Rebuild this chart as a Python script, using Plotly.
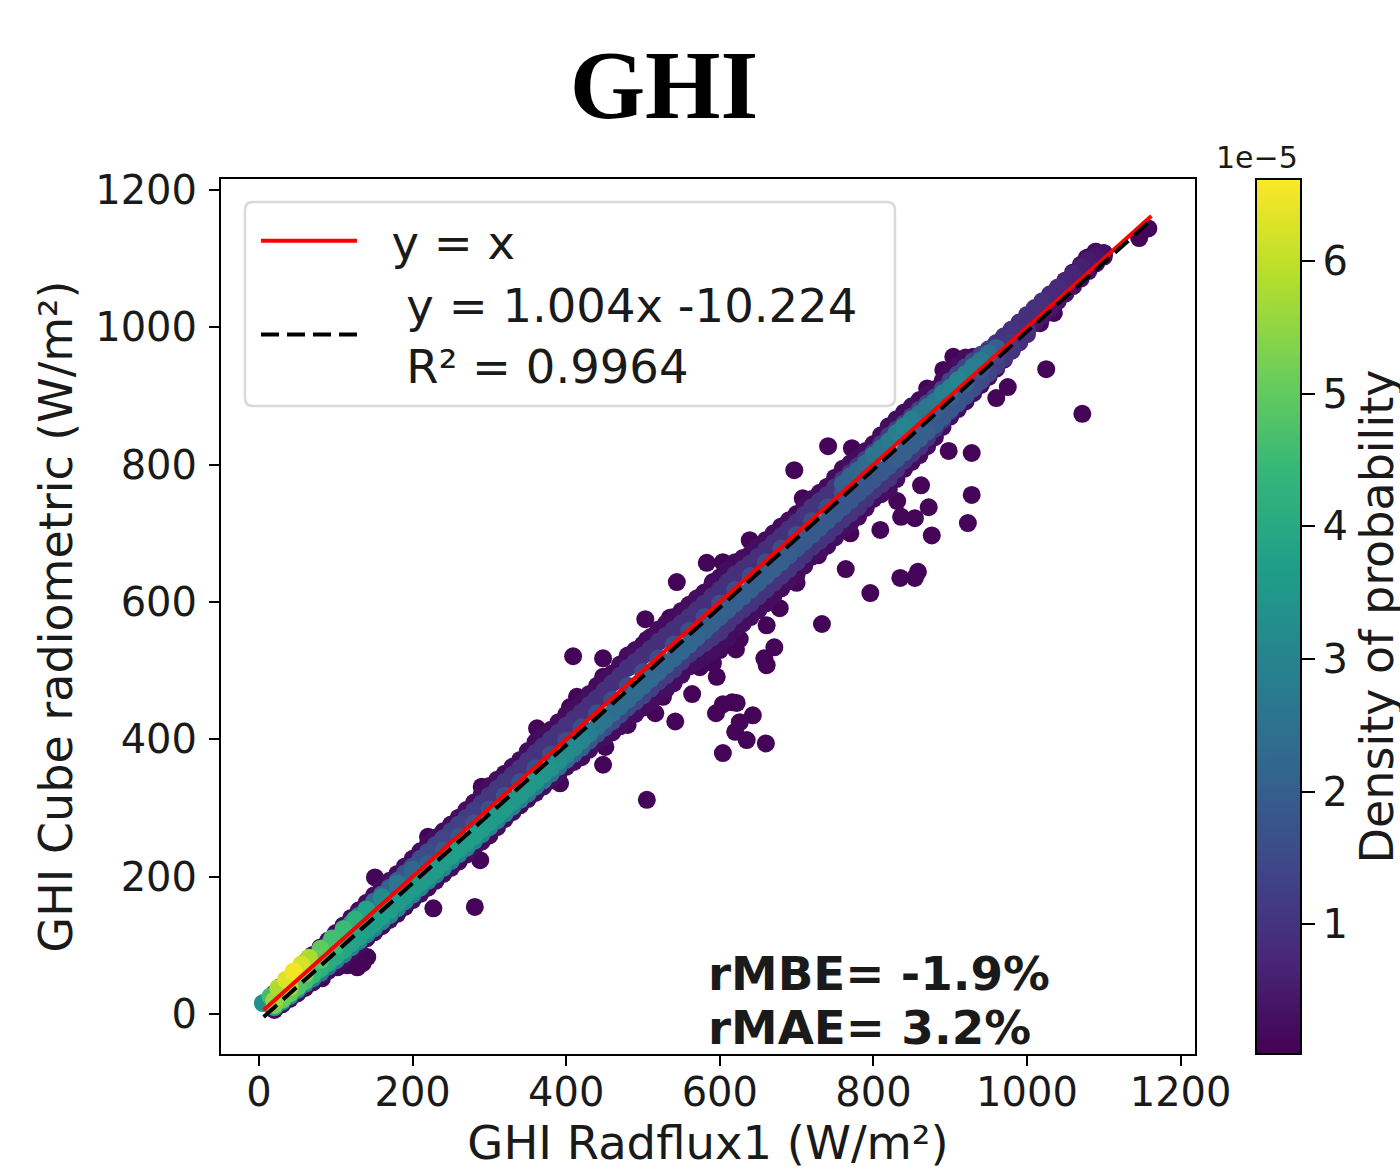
import plotly.graph_objects as go

W, H = 1400, 1170

outlier_x = [741,697,772,409,448,544,503,535,583,604,764,733,661,626,621,671,658,661,596,564,542,595,604,616,622,643,626,620,635,660,604,448,505,480,516,451,1158,1146,1072,1025,975,960,898,928,928,862,831,872,923,836,854,876,809,858,854,835,796,1035,1017,1089,1078,870,904,891,281,227,288,135,141,128,115,102,82,151,392,362,290,220,
             747,770,678,652,700,728,600,591,574,539,526,505,518,448,414,405,639,708,591,574]
outlier_y = [827,792,824,521,518,629,575,577,657,658,648,568,566,546,531,534,518,508,491,466,426,438,451,454,453,435,425,411,399,394,380,363,312,421,438,389,1144,1130,874,939,913,897,820,817,756,770,747,738,715,724,722,697,705,644,635,635,613,1021,1006,1110,1101,911,957,938,156,154,224,74,83,68,71,68,52,199,336,416,331,258,
             700,700,591,593,628,668,530,511,505,482,462,545,555,491,462,447,690,751,629,607]
outlier_d = [0.1] * len(outlier_x)

band_x = [20,40,60,80,100,120,140,160,180,200,220,240,260,280,300,320,340,360,380,400,420,440,460,480,500,520,540,560,580,600,620,640,660,680,700,720,740,760,780,800,820,840,860,880,900,920,940,960,980,1000,1020,1040,1060,1080,1100]
band2_x = [30,50,70,90,110,130,150,170,190,210,230,250,270,290,310,330,350,370,390,410,430,450,470,490,510,530,550,570,590,610,630,650,670,690,710,730,750,770,790,810,830,850,870,890,910,930,950,970,990,1010,1030,1050,1070,1090]

edge_up_y = [30,52,75,97,118,140,162,184,204,226,248,266,286,308,332,350,370,396,414,436,454,478,496,522,538,560,578,596,614,636,658,670,690,710,728,750,768,794,810,830,856,876,894,910,934,956,958,974,994,1014,1036,1056,1080,1102,1108]
edge_up_d = [0.2] * len(band_x)
edge_up2_y = [41,63,86,107,129,151,173,194,215,237,257,276,297,320,341,360,383,405,425,445,466,487,509,530,549,569,587,605,625,647,664,680,700,719,739,759,781,802,820,843,866,885,902,922,945,957,966,984,1004,1025,1046,1068,1091,1110]
edge_up2_d = [0.25] * len(band2_x)

edge_low_y = [6,22,38,54,72,90,110,128,146,166,184,204,222,242,260,284,304,322,340,360,374,396,410,428,446,464,482,506,520,534,560,578,598,620,640,666,682,706,724,750,764,794,814,840,870,892,916,940,966,1002,1024,1044,1066,1088,1108]
edge_low_d = [0.2] * len(band_x)
edge_low2_y = [14,30,46,63,81,100,119,137,156,175,194,213,232,251,272,294,313,331,350,367,385,403,419,437,455,473,494,513,527,547,569,588,609,630,653,674,694,715,737,757,779,804,827,855,881,904,928,953,980,1013,1034,1055,1077,1098]
edge_low2_d = [0.25] * len(band2_x)

mid_up_y = [26,47,68,90,110,132,153,174,194,215,236,256,276,296,318,338,358,380,400,420,440,460,482,504,522,542,560,578,598,618,640,656,676,696,716,738,756,778,798,818,842,860,880,898,922,942,960,977,997,1018,1038,1058,1078,1098,1108]
mid_up_d = [4.5,5.0,4.8,4.2,3.8,3.0,2.6,2.2,1.9,1.7,1.5,1.4,1.3,1.2,1.1,1.1,1.0,1.0,1.0,1.0,0.9,0.9,0.9,0.9,0.9,0.9,0.9,0.9,0.9,0.9,0.9,0.9,0.9,0.9,0.9,1.0,1.0,1.1,1.1,1.2,1.2,1.3,1.3,1.4,1.4,1.4,1.4,1.0,1.0,0.9,0.9,0.8,0.7,0.5,0.3]
mid_up2_y = [37,58,79,100,121,143,164,184,205,226,246,266,286,307,328,348,369,390,410,430,450,471,493,513,532,551,569,588,608,629,648,666,686,706,727,747,767,788,808,830,851,870,889,910,932,951,968,987,1007,1028,1048,1068,1088,1104]
mid_up2_d = [4.8,4.9,4.5,4.0,3.4,2.8,2.4,2.0,1.8,1.6,1.4,1.3,1.2,1.1,1.1,1.0,1.0,1.0,1.0,0.9,0.9,0.9,0.9,0.9,0.9,0.9,0.9,0.9,0.9,0.9,0.9,0.9,0.9,0.9,1.0,1.0,1.0,1.1,1.2,1.2,1.3,1.3,1.4,1.4,1.4,1.4,1.2,1.0,0.9,0.9,0.8,0.7,0.6,0.4]

mid_low_y = [10,26,44,60,78,97,116,135,154,174,194,213,233,252,272,292,312,331,350,370,388,408,426,446,464,484,502,524,540,556,580,598,618,638,658,680,698,720,738,762,780,806,826,852,878,900,924,946,970,996,1016,1038,1060,1082,1103]
mid_low_d = [3.8,3.2,3.0,2.8,2.8,2.9,3.0,3.0,3.0,3.0,3.0,3.0,3.0,3.0,3.0,2.9,2.8,2.7,2.5,2.3,2.0,1.7,1.5,1.4,1.3,1.2,1.2,1.1,1.1,1.0,1.0,1.0,1.0,1.0,1.0,1.0,1.0,1.0,1.0,1.0,1.0,1.0,1.0,1.0,1.0,1.0,0.9,0.8,0.6,0.5,0.4,0.4,0.3,0.3,0.2]
mid_low2_y = [18,35,52,69,87,106,125,144,164,184,203,223,242,262,282,302,321,340,360,379,398,417,436,455,474,493,513,532,548,568,589,608,628,648,669,689,709,729,750,771,793,816,839,865,889,912,935,958,983,1006,1027,1049,1071,1093]
mid_low2_d = [3.5,3.1,2.9,2.8,2.85,2.95,3.0,3.0,3.0,3.0,3.0,3.0,3.0,3.0,2.95,2.85,2.75,2.6,2.4,2.15,1.85,1.6,1.45,1.35,1.25,1.2,1.15,1.1,1.05,1.0,1.0,1.0,1.0,1.0,1.0,1.0,1.0,1.0,1.0,1.0,1.0,1.0,1.0,1.0,1.0,0.95,0.85,0.7,0.55,0.45,0.4,0.35,0.3,0.25]

core_low_x = band_x[:50]
core_low_y = [13,30,48,66,84,103,122,142,161,181,200,220,240,259,279,299,319,339,358,378,398,418,438,458,478,498,518,538,558,578,598,618,638,658,678,698,718,738,758,778,798,818,838,858,880,900,922,944,966,990]
core_low_d = [5.2,5.0,4.6,4.2,4.0,3.8,3.7,3.7,3.6,3.6,3.6,3.6,3.7,3.7,3.6,3.6,3.5,3.5,3.4,3.2,3.0,2.6,2.4,2.3,2.3,2.2,2.2,2.2,2.1,2.0,2.0,2.0,2.0,2.0,1.9,1.9,1.9,1.8,1.8,1.8,1.9,2.0,2.0,1.9,1.8,1.7,1.5,1.2,1.0,0.8]

core2_x = band2_x[:49]
core2_y = [21,39,57,75,93,112,132,151,171,191,210,230,250,269,289,309,329,349,368,388,408,428,448,468,488,508,528,548,568,588,608,628,648,668,688,708,728,748,768,788,808,828,848,869,890,911,933,955,978]
core2_d = [5.1,4.8,4.4,4.1,3.9,3.75,3.7,3.65,3.6,3.6,3.6,3.65,3.7,3.65,3.6,3.55,3.5,3.45,3.3,3.1,2.8,2.5,2.35,2.3,2.25,2.2,2.2,2.15,2.05,2.0,2.0,2.0,2.0,1.95,1.9,1.9,1.85,1.8,1.8,1.85,1.95,2.0,1.95,1.85,1.75,1.6,1.35,1.1,0.9]

center_x = band_x[:50]
center_y = [20,39,59,79,99,118,138,158,178,198,218,238,258,278,298,318,338,358,378,398,418,438,458,478,498,518,538,558,578,598,618,638,658,678,698,718,738,758,778,798,818,838,858,878,898,918,938,958,978,998]
center_d = [5.6,5.8,5.4,4.8,4.4,3.8,3.2,2.8,2.4,2.2,2.0,1.9,1.8,1.8,1.7,1.7,1.6,1.6,1.6,1.6,1.6,1.6,1.6,1.6,1.6,1.6,1.6,1.6,1.6,1.6,1.6,1.6,1.6,1.6,1.6,1.6,1.6,1.7,1.8,1.8,1.9,2.0,2.0,2.0,2.0,2.0,1.8,1.4,1.1,0.9]

core_up_x = [5,15,25,35,45,55,65,80,95,110,125,140,160,180,200]
core_up_y = [16,26,38,50,62,72,82,95,110,124,138,152,170,190,210]
core_up_d = [3.4,4.6,5.8,6.3,6.5,6.2,5.8,5.0,4.6,4.5,4.2,3.8,3.2,2.6,2.2]

hot_up_x = [760,770,780,790,800,810,820,830,840,850,860,870,880,890,900,910,920,930,940,950,960]
hot_up_y = [772,783,792,802,814,824,834,846,856,866,874,884,892,904,912,923,932,943,952,962,970]
hot_up_d = [2.0,2.1,2.2,2.3,2.5,2.6,2.7,2.8,3.0,2.8,2.6,2.6,2.7,2.8,2.9,3.0,2.9,2.8,2.7,2.4,2.0]

identity_x = [6, 1162]
identity_y = [6, 1162]
fit_x = [6, 1158]
fit_y = [-4.2, 1152.4]

x_ticks = [0,200,400,600,800,1000,1200]
y_ticks = [0,200,400,600,800,1000,1200]
cbar_ticks = [1,2,3,4,5,6]

all_x = outlier_x + band_x + band2_x + band_x + band2_x + band_x + band2_x + band_x + band2_x + core_low_x + core2_x + center_x + core_up_x + hot_up_x
all_y = outlier_y + edge_up_y + edge_up2_y + edge_low_y + edge_low2_y + mid_up_y + mid_up2_y + mid_low_y + mid_low2_y + core_low_y + core2_y + center_y + core_up_y + hot_up_y
all_d = outlier_d + edge_up_d + edge_up2_d + edge_low_d + edge_low2_d + mid_up_d + mid_up2_d + mid_low_d + mid_low2_d + core_low_d + core2_d + center_d + core_up_d + hot_up_d
order = sorted(range(len(all_d)), key=lambda i: all_d[i])

FONT = "DejaVu Sans"
INK = "#1a1a1a"
px = lambda v: v / W
py = lambda v: 1 - v / H

fig = go.Figure()
fig.add_trace(go.Scatter(
    x=[all_x[i] for i in order], y=[all_y[i] for i in order], mode="markers",
    showlegend=False, hoverinfo="skip",
    marker=dict(size=18, color=[all_d[i] for i in order], colorscale="Viridis", cmin=0.02, cmax=6.62,
                line=dict(width=0),
                colorbar=dict(x=px(1256), xanchor="left", xpad=0, thickness=45, thicknessmode="pixels",
                              len=875, lenmode="pixels", y=py(616.5), yanchor="middle", ypad=0,
                              outlinecolor="black", outlinewidth=2, tickvals=cbar_ticks,
                              ticks="outside", ticklen=13, tickwidth=1.5, tickcolor="black",
                              tickfont=dict(family=FONT, size=40, color=INK),
                              title=dict(text="Density of probability", side="right",
                                         font=dict(family=FONT, size=46, color=INK))))))
fig.add_trace(go.Scatter(x=identity_x, y=identity_y, mode="lines", name="\u00a0\u00a0y = x",
                         line=dict(color="#ff0000", width=4)))
fig.add_trace(go.Scatter(x=fit_x, y=fit_y, mode="lines",
                         name="\u00a0\u00a0\u00a0y = 1.004x -10.224<br>\u00a0\u00a0\u00a0R² = 0.9964",
                         line=dict(color="black", width=4, dash="18px,8px")))

axis = dict(showgrid=False, zeroline=False, showline=True, mirror=True, linecolor="black", linewidth=2,
            ticks="outside", ticklen=10, tickwidth=1.5, tickcolor="black",
            tickfont=dict(family=FONT, size=40, color=INK))
fig.update_xaxes(**axis, domain=[px(221), px(1195)], range=[-49.5, 1218.75], tickvals=x_ticks,
                 ticklabelstandoff=-8,
                 title=dict(text="GHI Radflux1 (W/m²)", standoff=18, font=dict(family=FONT, size=46.5, color=INK)))
fig.update_yaxes(**axis, domain=[py(1054), py(179)], range=[-58.2, 1216], tickvals=y_ticks,
                 ticklabelstandoff=4,
                 title=dict(text="GHI Cube radiometric (W/m²)", standoff=8, font=dict(family=FONT, size=46, color=INK)))

x0, x1, y0, y1, r = 245, 895, 202, 406, 8
box = (f"M {px(x0+r)} {py(y0)} L {px(x1-r)} {py(y0)} Q {px(x1)} {py(y0)} {px(x1)} {py(y0+r)} "
       f"L {px(x1)} {py(y1-r)} Q {px(x1)} {py(y1)} {px(x1-r)} {py(y1)} L {px(x0+r)} {py(y1)} "
       f"Q {px(x0)} {py(y1)} {px(x0)} {py(y1-r)} L {px(x0)} {py(y0+r)} Q {px(x0)} {py(y0)} {px(x0+r)} {py(y0)} Z")

fig.update_layout(
    width=W, height=H, paper_bgcolor="white", plot_bgcolor="white",
    margin=dict(l=0, r=0, t=0, b=0, autoexpand=False),
    title=dict(text="GHI", x=px(664), xanchor="center", xref="paper", y=py(84), yanchor="middle", yref="container",
               font=dict(family="Liberation Serif", size=97, color="black", weight=700)),
    legend=dict(x=px(256), y=py(204), xanchor="left", yanchor="top", bgcolor="rgba(0,0,0,0)", borderwidth=0,
                itemwidth=96, font=dict(family=FONT, size=46.5, color=INK), tracegroupgap=0),
    shapes=[dict(type="path", path=box, xref="paper", yref="paper",
                 line=dict(color="#d9d9d9", width=2.5), fillcolor="rgba(255,255,255,0.8)", layer="above")],
    annotations=[
        dict(text="1e−5", x=px(1257), y=py(158), xref="paper", yref="paper", xanchor="center", yanchor="middle",
             showarrow=False, font=dict(family=FONT, size=30, color=INK)),
        dict(text="<b>rMBE= -1.9%</b>", x=px(706), y=py(974), xref="paper", yref="paper", xanchor="left",
             yanchor="middle", showarrow=False, font=dict(family=FONT, size=46.8, color=INK)),
        dict(text="<b>rMAE= 3.2%</b>", x=px(706), y=py(1028), xref="paper", yref="paper", xanchor="left",
             yanchor="middle", showarrow=False, font=dict(family=FONT, size=46.8, color=INK)),
    ],
)
fig.write_html("out.html", post_script="document.body.style.margin='0';", config={"displayModeBar": False})
